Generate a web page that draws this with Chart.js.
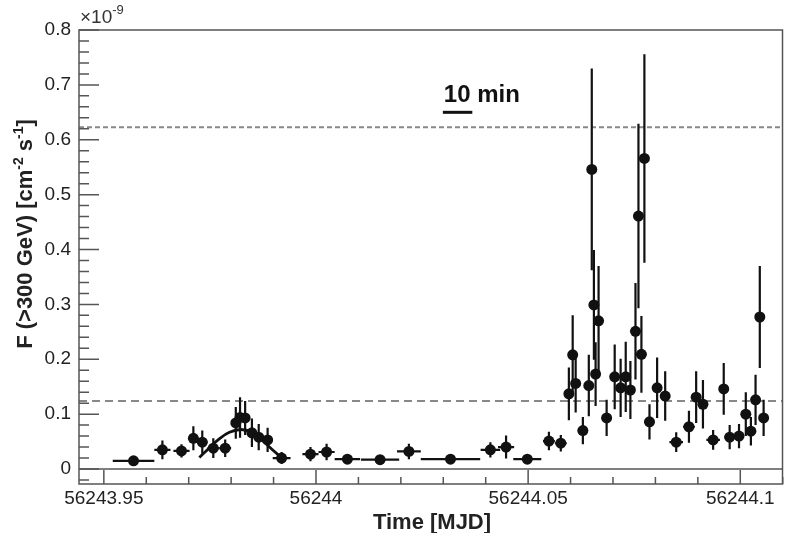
<!DOCTYPE html>
<html>
<head>
<meta charset="utf-8">
<script src="https://cdn.jsdelivr.net/npm/chart.js@4"></script>
<style>
  body { margin: 0; background: #fff; }
  #wrap { width: 788px; height: 533px; }
</style>
</head>
<body>
<div id="wrap"><canvas id="lcChart"></canvas></div>
<script>
// light curve, flux in units of 1e-9 cm^-2 s^-1
const mjd = [
  56243.9570, 56243.9638, 56243.9683, 56243.9711, 56243.9732, 56243.9758, 56243.9786,
  56243.9811, 56243.9821, 56243.9833, 56243.9849, 56243.9865, 56243.9886, 56243.9919,
  56243.9987, 56244.0025, 56244.0074, 56244.0151, 56244.0219, 56244.0317, 56244.0411,
  56244.0448, 56244.0498, 56244.0549, 56244.0577, 56244.0596, 56244.0605, 56244.0612,
  56244.0629, 56244.0643, 56244.0650, 56244.0655, 56244.0659, 56244.0666, 56244.0685,
  56244.0704, 56244.0718, 56244.0730, 56244.0741, 56244.0753, 56244.0760, 56244.0767,
  56244.0774, 56244.0786, 56244.0804, 56244.0823, 56244.0849, 56244.0879, 56244.0896,
  56244.0912, 56244.0936, 56244.0961, 56244.0975, 56244.0997, 56244.1013, 56244.1025,
  56244.1036, 56244.1046, 56244.1055
];
const mjdErr = [
  0.0049, 0.0019, 0.0019, 0.0012, 0.0012, 0.0014, 0.0014,
  0.0007, 0.0007, 0.0007, 0.0009, 0.0009, 0.0012, 0.0021,
  0.0019, 0.0019, 0.0030, 0.0045, 0.0028, 0.0070, 0.0023,
  0.0019, 0.0033, 0.0014, 0.0014, 0.0007, 0.0007, 0.0007,
  0.0012, 0.0007, 0.0007, 0.0007, 0.0007, 0.0007, 0.0012,
  0.0007, 0.0007, 0.0007, 0.0007, 0.0007, 0.0007, 0.0007,
  0.0007, 0.0012, 0.0007, 0.0007, 0.0016, 0.0014, 0.0007,
  0.0007, 0.0016, 0.0007, 0.0012, 0.0012, 0.0007, 0.0007,
  0.0007, 0.0007, 0.0007
];
const flux = [
  0.015, 0.035, 0.033, 0.056, 0.049, 0.038, 0.038,
  0.084, 0.094, 0.093, 0.066, 0.058, 0.053, 0.020,
  0.027, 0.031, 0.018, 0.017, 0.032, 0.018, 0.035,
  0.040, 0.018, 0.051, 0.047, 0.137, 0.208, 0.156,
  0.070, 0.152, 0.546, 0.299, 0.173, 0.270, 0.093,
  0.168, 0.148, 0.168, 0.144, 0.251, 0.461, 0.209,
  0.566, 0.086, 0.148, 0.133, 0.049, 0.077, 0.131,
  0.118, 0.053, 0.146, 0.058, 0.060, 0.100, 0.069,
  0.126, 0.277, 0.093
];
const fluxErr = [
  0.005, 0.017, 0.012, 0.022, 0.021, 0.018, 0.016,
  0.029, 0.037, 0.031, 0.026, 0.024, 0.022, 0.011,
  0.013, 0.015, 0.006, 0.006, 0.014, 0.004, 0.014,
  0.021, 0.007, 0.017, 0.015, 0.048, 0.072, 0.053,
  0.025, 0.056, 0.184, 0.100, 0.058, 0.100, 0.033,
  0.059, 0.053, 0.064, 0.053, 0.088, 0.168, 0.070,
  0.190, 0.032, 0.055, 0.045, 0.018, 0.029, 0.047,
  0.044, 0.018, 0.047, 0.022, 0.022, 0.040, 0.026,
  0.046, 0.093, 0.033
];

// gaussian fit curve
const fitMjd = [56243.9725, 56243.9748, 56243.9772, 56243.9796, 56243.9823, 56243.9849, 56243.9872, 56243.9896, 56243.9920];
const fitFlux = [0.021, 0.038, 0.055, 0.067, 0.072, 0.067, 0.053, 0.036, 0.020];

// reference levels (dashed lines)
const refLevels = [0.623, 0.124];

const xTicks = [56243.95, 56244, 56244.05, 56244.1];
const xTickLabels = ["56243.95", "56244", "56244.05", "56244.1"];
const yTicks = [0, 0.1, 0.2, 0.3, 0.4, 0.5, 0.6, 0.7, 0.8];
const yTickLabels = ["0", "0.1", "0.2", "0.3", "0.4", "0.5", "0.6", "0.7", "0.8"];

const scaleBarStart = 56244.0299;
const scaleBarLen = 10 / 1440; // 10 min in days
const scaleBarLevel = 0.65;

const FONT = "'Liberation Sans', Arial, Helvetica, sans-serif";

const points = mjd.map((x, i) => ({ x: x, y: flux[i] }));
const fitPoints = fitMjd.map((x, i) => ({ x: x, y: fitFlux[i] }));

const rootStyle = {
  id: "rootStyle",
  beforeDatasetsDraw(chart) {
    const ctx = chart.ctx;
    const xs = chart.scales.x, ys = chart.scales.y;
    const a = chart.chartArea;
    ctx.save();
    // zero line
    ctx.strokeStyle = "#555";
    ctx.lineWidth = 1.5;
    ctx.beginPath();
    ctx.moveTo(a.left, ys.getPixelForValue(0));
    ctx.lineTo(a.right, ys.getPixelForValue(0));
    ctx.stroke();
    // dashed reference levels
    ctx.strokeStyle = "#888";
    ctx.lineWidth = 2;
    ctx.setLineDash([5, 3]);
    let py = ys.getPixelForValue(refLevels[0]);
    ctx.beginPath(); ctx.moveTo(a.left, py); ctx.lineTo(a.right, py); ctx.stroke();
    ctx.setLineDash([8, 5]);
    py = ys.getPixelForValue(refLevels[1]);
    ctx.beginPath(); ctx.moveTo(a.left, py); ctx.lineTo(a.right, py); ctx.stroke();
    ctx.setLineDash([]);
    // error bars
    ctx.strokeStyle = "#111";
    ctx.lineWidth = 2.2;
    for (let i = 0; i < mjd.length; i++) {
      const px = xs.getPixelForValue(mjd[i]);
      const pyc = ys.getPixelForValue(flux[i]);
      ctx.beginPath();
      ctx.moveTo(px, ys.getPixelForValue(flux[i] - fluxErr[i]));
      ctx.lineTo(px, ys.getPixelForValue(flux[i] + fluxErr[i]));
      ctx.moveTo(xs.getPixelForValue(mjd[i] - mjdErr[i]), pyc);
      ctx.lineTo(xs.getPixelForValue(mjd[i] + mjdErr[i]), pyc);
      ctx.stroke();
    }
    ctx.restore();
  },
  afterDraw(chart) {
    const ctx = chart.ctx;
    const xs = chart.scales.x, ys = chart.scales.y;
    const a = chart.chartArea;
    ctx.save();
    // frame
    ctx.strokeStyle = "#555";
    ctx.lineWidth = 1.5;
    ctx.strokeRect(a.left, a.top, a.right - a.left, a.bottom - a.top);
    // y ticks (inside)
    ctx.beginPath();
    for (let k = -1; k <= 40; k++) {
      const v = k * 0.02;
      const p = ys.getPixelForValue(v);
      if (p < a.top || p > a.bottom) continue;
      const len = (k % 5 === 0) ? 20 : 10;
      ctx.moveTo(a.left, p); ctx.lineTo(a.left + len, p);
    }
    // x ticks (inside)
    for (let k = 0; k <= 16; k++) {
      const v = 56243.95 + k * 0.01;
      const p = xs.getPixelForValue(v);
      if (p < a.left || p > a.right + 1) continue;
      const len = (k % 5 === 0) ? 14 : 7;
      ctx.moveTo(p, a.bottom); ctx.lineTo(p, a.bottom - len);
    }
    ctx.stroke();

    // 10 min scale bar
    ctx.strokeStyle = "#111";
    ctx.lineWidth = 3;
    const by = ys.getPixelForValue(scaleBarLevel);
    ctx.beginPath();
    ctx.moveTo(xs.getPixelForValue(scaleBarStart), by);
    ctx.lineTo(xs.getPixelForValue(scaleBarStart + scaleBarLen), by);
    ctx.stroke();
    ctx.fillStyle = "#111";
    ctx.font = "bold 24px " + FONT;
    ctx.textAlign = "left";
    ctx.textBaseline = "alphabetic";
    ctx.fillText("10 min", xs.getPixelForValue(scaleBarStart) + 1, by - 10);

    // exponent label
    ctx.fillStyle = "#333";
    ctx.font = "19px " + FONT;
    ctx.fillText("\u00d710", a.left + 1, 23);
    const w = ctx.measureText("\u00d710").width;
    ctx.font = "13px " + FONT;
    ctx.fillText("-9", a.left + 1 + w, 14);

    // x title
    ctx.fillStyle = "#222";
    ctx.font = "bold 22px " + FONT;
    ctx.textAlign = "center";
    ctx.fillText("Time [MJD]", 432, 529);

    // y title with superscripts
    const parts = [
      ["F (>300 GeV) [cm", false], ["-2", true], [" s", false], ["-1", true], ["]", false]
    ];
    const fBase = "bold 22px " + FONT, fSup = "bold 14px " + FONT;
    let total = 0;
    parts.forEach(p => { ctx.font = p[1] ? fSup : fBase; total += ctx.measureText(p[0]).width; });
    ctx.translate(32, 234);
    ctx.rotate(-Math.PI / 2);
    ctx.textAlign = "left";
    let cx = -total / 2;
    parts.forEach(p => {
      ctx.font = p[1] ? fSup : fBase;
      ctx.fillText(p[0], cx, p[1] ? -9 : 0);
      cx += ctx.measureText(p[0]).width;
    });
    ctx.restore();
  }
};

new Chart(document.getElementById("lcChart").getContext("2d"), {
  type: "scatter",
  data: {
    datasets: [
      {
        label: "flux",
        data: points,
        pointRadius: 5.5,
        pointHoverRadius: 5.5,
        backgroundColor: "#111",
        borderColor: "#111",
        borderWidth: 0
      },
      {
        label: "fit",
        type: "line",
        data: fitPoints,
        showLine: true,
        pointRadius: 0,
        borderColor: "#111",
        borderWidth: 2.8,
        tension: 0.4,
        fill: false
      }
    ]
  },
  options: {
    responsive: true,
    maintainAspectRatio: false,
    animation: false,
    layout: { padding: { top: 30, right: 1, left: 0, bottom: 0 } },
    plugins: { legend: { display: false }, tooltip: { enabled: false } },
    scales: {
      x: {
        type: "linear",
        min: 56243.944145,
        max: 56244.10995,
        grid: { display: false, drawTicks: false },
        border: { display: false },
        afterBuildTicks: s => { s.ticks = xTicks.map(v => ({ value: v })); },
        afterFit: s => { s.height = 49; },
        ticks: {
          autoSkip: false,
          maxRotation: 0,
          padding: 3,
          color: "#222",
          font: { family: FONT, size: 19 },
          callback: (v, i) => xTickLabels[i]
        }
      },
      y: {
        type: "linear",
        min: -0.0273,
        max: 0.8,
        grid: { display: false, drawTicks: false },
        border: { display: false },
        afterBuildTicks: s => { s.ticks = yTicks.map(v => ({ value: v })); },
        afterFit: s => { s.width = 79; },
        ticks: {
          autoSkip: false,
          padding: 8,
          color: "#222",
          font: { family: FONT, size: 19 },
          callback: (v, i) => yTickLabels[i]
        }
      }
    }
  },
  plugins: [rootStyle]
});
</script>
</body>
</html>
